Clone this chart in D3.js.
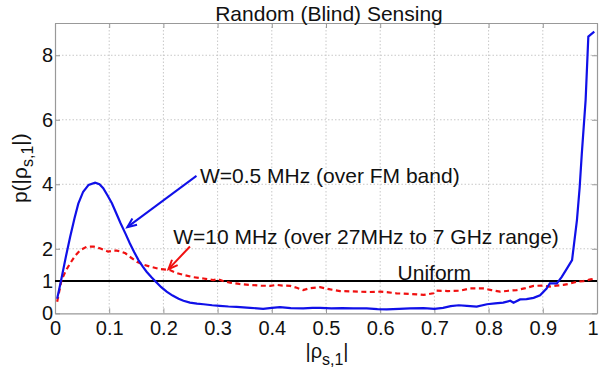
<!DOCTYPE html>
<html><head><meta charset="utf-8">
<script src="https://cdn.jsdelivr.net/npm/d3@7"></script>
<style>body{margin:0;background:#fff}svg{display:block}text{font-family:"Liberation Sans",Arial,sans-serif}</style>
</head><body><svg id="c" width="599" height="373"></svg>
<script>
const xTicks = [0,0.1,0.2,0.3,0.4,0.5,0.6,0.7,0.8,0.9,1];
const xTickLabels = ["0","0.1","0.2","0.3","0.4","0.5","0.6","0.7","0.8","0.9","1"];
const yTicks = [0,1,2,4,6,8];
const yTickLabels = ["0","1","2","4","6","8"];

const blueX = [0.004,0.011,0.02,0.028,0.036,0.043,0.052,0.062,0.074,0.082,0.089,0.097,0.105,0.113,0.121,0.13,0.138,0.146,0.154,0.162,0.169,0.178,0.186,0.196,0.206,0.217,0.228,0.237,0.249,0.262,0.274,0.29,0.304,0.32,0.335,0.36,0.384,0.4,0.415,0.435,0.458,0.475,0.489,0.51,0.53,0.55,0.575,0.595,0.612,0.635,0.655,0.68,0.7,0.716,0.73,0.745,0.76,0.778,0.797,0.812,0.827,0.84,0.846,0.858,0.87,0.883,0.895,0.907,0.913,0.926,0.935,0.945,0.954,0.963,0.968,0.972,0.979,0.984,0.995];
const blueY = [0.45,1.0,1.75,2.37,2.95,3.4,3.77,3.98,4.05,4.0,3.88,3.65,3.41,3.1,2.79,2.47,2.17,1.9,1.65,1.45,1.29,1.12,0.98,0.81,0.67,0.55,0.45,0.39,0.33,0.3,0.28,0.25,0.23,0.21,0.2,0.17,0.14,0.17,0.19,0.16,0.15,0.17,0.17,0.15,0.16,0.15,0.15,0.13,0.12,0.14,0.15,0.16,0.14,0.17,0.22,0.25,0.23,0.21,0.28,0.31,0.33,0.39,0.33,0.43,0.44,0.48,0.56,0.77,0.93,0.93,1.13,1.4,1.65,2.89,3.9,4.96,6.61,8.58,8.73];

const redX = [0.004,0.012,0.02,0.028,0.037,0.047,0.058,0.071,0.084,0.098,0.106,0.114,0.122,0.13,0.14,0.151,0.163,0.175,0.194,0.212,0.224,0.237,0.255,0.274,0.292,0.3,0.31,0.323,0.34,0.36,0.38,0.397,0.409,0.42,0.434,0.446,0.458,0.47,0.489,0.508,0.526,0.545,0.563,0.58,0.6,0.615,0.63,0.655,0.68,0.698,0.704,0.725,0.747,0.766,0.79,0.805,0.821,0.837,0.852,0.868,0.883,0.9,0.913,0.925,0.938,0.95,0.963,0.975,0.988,0.997];
const redY = [0.36,1.03,1.32,1.55,1.78,1.96,2.06,2.07,2.01,1.91,1.94,1.94,1.91,1.86,1.73,1.6,1.51,1.45,1.37,1.34,1.25,1.19,1.12,1.08,1.03,1.06,1.0,0.95,0.91,0.88,0.86,0.85,0.88,0.86,0.85,0.79,0.72,0.78,0.81,0.74,0.69,0.68,0.67,0.66,0.67,0.65,0.62,0.6,0.57,0.62,0.7,0.69,0.7,0.77,0.77,0.72,0.67,0.7,0.72,0.78,0.85,0.86,0.83,0.86,0.88,0.92,0.98,1.0,1.05,1.08];

const uniformY = 1;
const title = "Random (Blind) Sensing";
const blueLabel = "W=0.5 MHz (over FM band)";
const redLabel = "W=10 MHz (over 27MHz to 7 GHz range)";
const uniformLabel = "Uniform";
// annotation anchors in data coordinates
const blueArrow = [[0.261,4.26],[0.1334,2.67]];
const redArrow = [[0.249,2.07],[0.2094,1.37]];
const blueText = [0.2675,4.03];
const redText = [0.218,2.15];
const uniformText = [0.632,1.03];

const svg = d3.select("#c");
const L=55,R=597,T=23,B=313.3;
const x = d3.scaleLinear().domain([0,1]).range([L,R]);
const y = d3.scaleLinear().domain([0,9]).range([B,T]);

// grid
const g = svg.append("g");
g.selectAll("line.vx").data(xTicks.slice(1,-1)).enter().append("line")
  .attr("x1",d=>x(d)).attr("x2",d=>x(d)).attr("y1",T).attr("y2",B)
  .attr("stroke","#c8c8c8").attr("stroke-width",1).attr("stroke-dasharray","1.5,2");
g.selectAll("line.hy").data(yTicks.slice(1)).enter().append("line")
  .attr("x1",L).attr("x2",R).attr("y1",d=>y(d)).attr("y2",d=>y(d))
  .attr("stroke","#c8c8c8").attr("stroke-width",1).attr("stroke-dasharray","1.5,2");

// axes with inward ticks
const ax = svg.append("g");
const bx = ax.append("g").attr("transform",`translate(0,${B})`)
  .call(d3.axisBottom(x).tickValues(xTicks).tickSizeInner(-5).tickSizeOuter(0).tickPadding(8).tickFormat((d,i)=>xTickLabels[i]));
ax.append("g").attr("transform",`translate(0,${T})`)
  .call(d3.axisTop(x).tickValues(xTicks).tickSizeInner(-5).tickSizeOuter(0).tickFormat(""));
ax.append("g").attr("transform",`translate(${L},0)`)
  .call(d3.axisLeft(y).tickValues(yTicks).tickSizeInner(-5).tickSizeOuter(0).tickPadding(2).tickFormat((d,i)=>yTickLabels[i]));
ax.append("g").attr("transform",`translate(${R},0)`)
  .call(d3.axisRight(y).tickValues(yTicks).tickSizeInner(-5).tickSizeOuter(0).tickFormat(""));
ax.selectAll(".domain").attr("stroke","#999").attr("stroke-width",1.2);
ax.selectAll(".tick line").attr("stroke","#999");
ax.selectAll(".tick text").attr("font-size",20).attr("fill","#111")
  .attr("font-family","'Liberation Sans',Arial,sans-serif");
// keep the last x label inside the picture
bx.selectAll(".tick text").filter(d=>d===1).attr("text-anchor","end").attr("dx",1);

// uniform line
svg.append("line").attr("x1",x(0)).attr("x2",x(1)).attr("y1",y(uniformY)).attr("y2",y(uniformY))
  .attr("stroke","#000").attr("stroke-width",2);

const line = d3.line().x(d=>x(d[0])).y(d=>y(d[1]));
svg.append("path").datum(redX.map((v,i)=>[v,redY[i]])).attr("d",line)
  .attr("fill","none").attr("stroke","#f01010").attr("stroke-width",2.2).attr("stroke-dasharray","5,3.5");
svg.append("path").datum(blueX.map((v,i)=>[v,blueY[i]])).attr("d",line)
  .attr("fill","none").attr("stroke","#1010e8").attr("stroke-width",2.2);

// arrows
function arrow(pts,color){
  const [a,b]=pts; const x1=x(a[0]),y1=y(a[1]),x2=x(b[0]),y2=y(b[1]);
  const ang=Math.atan2(y2-y1,x2-x1), h=10, w=0.4;
  svg.append("line").attr("x1",x1).attr("y1",y1).attr("x2",x2).attr("y2",y2)
    .attr("stroke",color).attr("stroke-width",2);
  const p1=[x2-h*Math.cos(ang-w),y2-h*Math.sin(ang-w)], p2=[x2-h*Math.cos(ang+w),y2-h*Math.sin(ang+w)];
  svg.append("path").attr("d",`M${p1}L${x2},${y2}L${p2}`).attr("fill","none")
    .attr("stroke",color).attr("stroke-width",2);
}
arrow(blueArrow,"#1010e8");
arrow(redArrow,"#f01010");

const txt=(p,s,anchor)=>svg.append("text").attr("x",x(p[0])).attr("y",y(p[1]))
  .attr("font-size",21).attr("fill","#111").attr("text-anchor",anchor||"start").text(s);
txt(blueText,blueLabel);
txt(redText,redLabel);
txt(uniformText,uniformLabel);

// title
svg.append("text").attr("x",(L+R)/2+3).attr("y",20.5).attr("text-anchor","middle")
  .attr("font-size",21).attr("fill","#111").text(title);

// x label
const xl=svg.append("text").attr("x",(L+R)/2+1).attr("y",358).attr("text-anchor","middle")
  .attr("font-size",20).attr("fill","#111");
xl.append("tspan").text("|ρ");
xl.append("tspan").attr("dy",7).attr("font-size",16).text("s,1");
xl.append("tspan").attr("dy",-7).text("|");

// y label
const yl=svg.append("text").attr("transform",`translate(27,${(T+B)/2}) rotate(-90)`)
  .attr("text-anchor","middle").attr("font-size",21).attr("fill","#111");
yl.append("tspan").text("p(|ρ");
yl.append("tspan").attr("dy",6).attr("font-size",16).text("s,1");
yl.append("tspan").attr("dy",-6).text("|)");
</script></body></html>
